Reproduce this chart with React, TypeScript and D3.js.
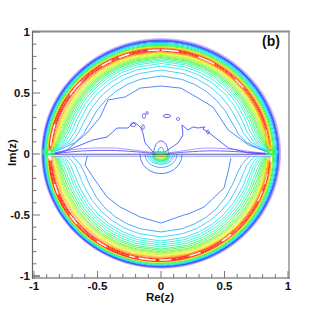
import React from "react";
import * as d3 from "d3";

const W = 322, H = 309;
const xTicksMajor = [-1, -0.5, 0, 0.5, 1];
const yTicksMajor = [-1, -0.5, 0, 0.5, 1];
const minorTicks = d3.range(-10, 11).map((d) => d / 10);

// angle samples (degrees from the real axis) for the dome profiles
const profileAngles = [1.5, 4, 8, 15, 25, 45, 90];

const upperDomes = [
  [0.83, 0.76, 0.68, 0.63, 0.615, 0.62, 0.64],
  [0.84, 0.78, 0.71, 0.67, 0.66, 0.668, 0.689],
  [0.845, 0.795, 0.735, 0.7, 0.695, 0.705, 0.721],
  [0.85, 0.81, 0.755, 0.725, 0.72, 0.73, 0.742],
  [0.853, 0.82, 0.77, 0.745, 0.74, 0.748, 0.758],
  [0.855, 0.827, 0.785, 0.76, 0.755, 0.762, 0.77],
  [0.857, 0.833, 0.797, 0.772, 0.768, 0.775, 0.781],
  [0.86, 0.838, 0.807, 0.785, 0.78, 0.785, 0.791],
  [0.861, 0.843, 0.815, 0.795, 0.79, 0.794, 0.799],
  [0.862, 0.847, 0.823, 0.805, 0.8, 0.803, 0.807],
  [0.863, 0.85, 0.83, 0.814, 0.81, 0.812, 0.815],
  [0.864, 0.853, 0.836, 0.822, 0.819, 0.82, 0.821],
  [0.865, 0.856, 0.842, 0.83, 0.827, 0.827, 0.828],
  [0.866, 0.858, 0.847, 0.837, 0.834, 0.834, 0.834],
  [0.867, 0.86, 0.852, 0.843, 0.84, 0.84, 0.84],
];
const lowerDomes = [
  [0.7, 0.67, 0.64, 0.62, 0.615, 0.625, 0.639],
  [0.74, 0.71, 0.68, 0.665, 0.66, 0.665, 0.68],
  [0.765, 0.74, 0.715, 0.7, 0.695, 0.7, 0.713],
  [0.785, 0.76, 0.735, 0.72, 0.715, 0.72, 0.73],
  [0.8, 0.775, 0.75, 0.735, 0.732, 0.738, 0.746],
  [0.81, 0.79, 0.77, 0.755, 0.75, 0.755, 0.762],
  [0.82, 0.8, 0.785, 0.77, 0.765, 0.77, 0.779],
  [0.83, 0.81, 0.795, 0.785, 0.78, 0.785, 0.79],
  [0.835, 0.82, 0.805, 0.797, 0.795, 0.8, 0.803],
  [0.84, 0.825, 0.815, 0.807, 0.805, 0.808, 0.811],
  [0.845, 0.83, 0.823, 0.816, 0.815, 0.817, 0.82],
  [0.85, 0.835, 0.83, 0.825, 0.823, 0.825, 0.828],
  [0.853, 0.84, 0.837, 0.833, 0.832, 0.834, 0.836],
  [0.856, 0.848, 0.844, 0.84, 0.84, 0.842, 0.844],
  [0.86, 0.855, 0.851, 0.848, 0.848, 0.85, 0.852],
];

// palette position of each dome, blue side first
const domeShade = [0.25, 0.31, 0.36, 0.41, 0.46, 0.5, 0.55, 0.59, 0.63, 0.67, 0.71, 0.75, 0.79, 0.84, 0.89];

// full outer rings: radius and palette position
const outerRingRadii = [0.941, 0.936, 0.931, 0.926, 0.921, 0.915, 0.908, 0.901, 0.894, 0.887];
const outerRingShade = [0.0, 0.04, 0.08, 0.11, 0.16, 0.27, 0.37, 0.47, 0.56, 0.66];
// crescents just outside the ridge
const outerCrescentRadii = [0.881, 0.876];
const outerCrescentShade = [0.78, 0.88];

// red crescents either side of the real axis
const ridgeOffsets = [0.01, 0.004, -0.004, -0.01];
const ridgeGaps = [
  [8, 15], [40, 46], [60, 69], [80, 90], [90, 97], [106, 113], [116, 124], [136, 147], [163, 175],
  [196, 204], [215, 222], [235, 241], [254, 259], [259, 270], [270, 278], [286, 292], [305, 311], [334, 340], [344, 352],
];

// hand-read contour polylines, in [Re, Im]
const upperBlue = [[-0.87,0.0],[-0.74,0.033],[-0.583,0.172],[-0.48,0.3],[-0.417,0.443],[-0.283,0.467],[-0.165,0.54],[0,0.557],[0.157,0.54],[0.29,0.46],[0.41,0.385],[0.528,0.197],[0.69,0.074],[0.84,0.016],[0.87,0.0]];
const lowerBlue = [[-0.58,-0.016],[-0.598,-0.09],[-0.52,-0.213],[-0.425,-0.352],[-0.323,-0.434],[-0.165,-0.516],[0,-0.566],[0.18,-0.5],[0.22,-0.49],[0.34,-0.434],[0.496,-0.279],[0.535,-0.115],[0.551,-0.033]];
const jagged = [[-0.87,0.0],[-0.8,0.008],[-0.69,0.05],[-0.535,0.115],[-0.425,0.139],[-0.346,0.213],[-0.26,0.213],[-0.22,0.254],[-0.2,0.254],[-0.173,0.23],[-0.158,0.213],[-0.142,0.172],[-0.126,0.092],[-0.063,0.016],[0.03,0.016],[0.134,0.09],[0.173,0.156],[0.165,0.238],[0.213,0.197],[0.252,0.222],[0.291,0.213],[0.346,0.222],[0.33,0.205],[0.37,0.18],[0.53,0.05],[0.69,0.008],[0.87,0.0]];
const arcLeft = [[-0.87,0.0],[-0.7,0.035],[-0.55,0.048],[-0.35,0.048],[-0.2,0.03],[-0.03,0.008]];
const arcRight = [[0.05,0.008],[0.2,0.03],[0.34,0.048],[0.55,0.04],[0.73,0.016],[0.87,0.0]];
const arcLeft2 = [[-0.87,0.0],[-0.6,0.026],[-0.35,0.028],[-0.15,0.014],[-0.03,0.003]];
const arcRight2 = [[0.05,0.003],[0.2,0.016],[0.4,0.026],[0.65,0.016],[0.87,0.0]];
const axisLine = [[-0.87,-0.002],[0.87,-0.002]];
const axisLine2 = [[-0.87,-0.018],[0.87,-0.018]];

// small islands: centre Re, Im, semi axes
const islands = [
  [-0.134, 0.311, 0.012, 0.02], [-0.11, 0.336, 0.008, 0.012], [-0.142, 0.221, 0.01, 0.02],
  [0.047, 0.311, 0.03, 0.012], [0.134, 0.287, 0.012, 0.012], [0.37, 0.18, 0.012, 0.014],
  [-0.22, 0.24, 0.02, 0.015],
];

// centre structure
const centreUpperArcs = [
  { rx: 0.058, ry: 0.107, shade: 0.15 },
  { rx: 0.025, ry: 0.055, shade: 0.2 },
];
const centreLobes = [
  { cy: -0.005, rx: 0.165, ry: 0.155, shade: 0.17 },
  { cy: -0.005, rx: 0.125, ry: 0.105, shade: 0.24 },
  { cy: -0.005, rx: 0.105, ry: 0.08, shade: 0.3 },
  { cy: -0.012, rx: 0.09, ry: 0.062, shade: 0.36 },
  { cy: -0.014, rx: 0.078, ry: 0.05, shade: 0.42 },
];
const centreCoreRx = [0.066, 0.055, 0.045];
const centreCoreRy = [0.036, 0.029, 0.022];
const centreCoreShade = [0.5, 0.58, 0.68];

const cornerBlobs = [
  { cx: -0.885, cy: 0.016, rx: 0.05, ry: 0.02, shade: 0.5 },
  { cx: -0.885, cy: 0.016, rx: 0.03, ry: 0.012, shade: 0.6 },
  { cx: 0.87, cy: 0.016, rx: 0.05, ry: 0.02, shade: 0.5 },
  { cx: 0.87, cy: 0.016, rx: 0.03, ry: 0.012, shade: 0.6 },
];

const paletteStops = ["#8a58ff", "#3a3aff", "#2a7cff", "#27c8ff", "#25f0e8", "#30f5a0", "#3cf53c", "#a8f530", "#f5f520", "#ff9a1e", "#ff2a20"];
const shade = d3.scaleLinear<string>().domain(paletteStops.map((_, i) => i / (paletteStops.length - 1))).range(paletteStops);

const x = d3.scaleLinear().domain([-1, 1]).range([34, 288]);
const y = d3.scaleLinear().domain([-1, 1]).range([276, 32]);
const line = d3.line<number[]>().x((d) => x(d[0])).y((d) => y(d[1]));
const smooth = d3.line<number[]>().x((d) => x(d[0])).y((d) => y(d[1])).curve(d3.curveCatmullRom.alpha(0.5));

const polar = (r: number, deg: number, cx = 0, cy = 0) => [cx + r * Math.cos((deg * Math.PI) / 180), cy + r * Math.sin((deg * Math.PI) / 180)];

function domePoints(row: number[], sign: number) {
  const rOf = d3.scaleLinear().domain(profileAngles).range(row);
  const fine = [1.5, 2.5, 4, 6, 8, 11, 15, 20, 25, 35, 45, 55, 65, 75, 90];
  const a = fine.map((t) => polar(rOf(t), t));
  const b = fine.slice(0, -1).reverse().map((t) => polar(rOf(t), 180 - t));
  return [...a, ...b].map((p) => [p[0], sign * p[1]]);
}

function ringPath(r: number, from: number, to: number, cx: number, cy: number, closed = false) {
  const pts = d3.range(from, to + 0.001, 3).map((t) => polar(r, t, cx, cy));
  return line(pts) + (closed ? "Z" : "");
}
const ringCentre = (r: number) => {
  const k = (r - 0.861) / 0.077;
  return [-0.012 + k * 0.012, -0.0085 + k * 0.013];
};

function ellipsePath(cx: number, cy: number, rx: number, ry: number, from = 0, to = 360) {
  const pts = d3.range(from, to + 0.001, 15).map((t) => [cx + rx * Math.cos((t * Math.PI) / 180), cy + ry * Math.sin((t * Math.PI) / 180)]);
  return smooth(pts) as string;
}

const font = "'Liberation Sans', Arial, sans-serif";
const sw = 0.85;

export default function App() {
  const ridgeC = [-0.012, -0.0085];
  return (
    <svg width={W} height={H} style={{ position: "absolute", left: 0, top: 0 }} fontFamily={font} fontWeight="bold">
      <rect width={W} height={H} fill="#fff" />
      <g fill="none" strokeWidth={sw}>
        {outerRingRadii.map((r, i) => {
          const c = ringCentre(r);
          return <path key={"o" + i} d={ringPath(r, 0, 360, c[0], c[1], true)} stroke={shade(outerRingShade[i])} strokeWidth={i < 3 ? 0.65 : 1.05} strokeOpacity={i < 2 ? 0.6 : 1} />;
        })}
        {outerCrescentRadii.map((r, i) => {
          const c = ringCentre(r);
          return (
            <g key={"oc" + i} stroke={shade(outerCrescentShade[i])} strokeWidth={1.15}>
              <path d={ringPath(r, 2, 178, c[0], c[1])} />
              <path d={ringPath(r, 182, 358, c[0], c[1])} />
            </g>
          );
        })}
        {ridgeOffsets.map((o, i) => (
          <g key={"r" + i} stroke={"#ff2a20"} strokeWidth={1}>
            <path d={ringPath(0.861 + o, 3, 177, ridgeC[0], ridgeC[1])} />
            <path d={ringPath(0.861 + o, 183, 357, ridgeC[0], ridgeC[1])} />
          </g>
        ))}
        <g stroke="#ff6a20" strokeWidth={0.9}>
          <path d={ringPath(0.861 - 0.017, 6, 174, ridgeC[0], ridgeC[1])} />
          <path d={ringPath(0.861 - 0.017, 186, 354, ridgeC[0], ridgeC[1])} />
        </g>
        {ridgeGaps.map((g, i) => (
          <path key={"g" + i} d={ringPath(0.861, g[0], g[1], ridgeC[0], ridgeC[1])} stroke="#fff" strokeWidth={1.5} />
        ))}
        {upperDomes.map((row, i) => (
          <path key={"u" + i} d={line(domePoints(row, 1)) as string} stroke={shade(domeShade[i])} />
        ))}
        {lowerDomes.map((row, i) => (
          <path key={"l" + i} d={line(domePoints(row, -1)) as string} stroke={shade(domeShade[i])} />
        ))}
        <path d={line(upperBlue) as string} stroke={shade(0.19)} />
        <path d={line(lowerBlue) as string} stroke={shade(0.19)} />
        <path d={line(jagged) as string} stroke={shade(0.13)} />
        {[arcLeft, arcRight].map((a, i) => <path key={"a" + i} d={smooth(a) as string} stroke={shade(0.02)} strokeOpacity={0.7} />)}
        {[arcLeft2, arcRight2].map((a, i) => <path key={"b" + i} d={smooth(a) as string} stroke={shade(0.07)} />)}
        {islands.map((e, i) => <path key={"i" + i} d={ellipsePath(e[0], e[1], e[2], e[3])} stroke={shade(0.1)} />)}
        {centreUpperArcs.map((c, i) => <path key={"c" + i} d={ellipsePath(0, 0, c.rx, c.ry, 0, 180)} stroke={shade(c.shade)} />)}
        {centreLobes.map((c, i) => <path key={"k" + i} d={ellipsePath(0, c.cy, c.rx, c.ry, 180, 360)} stroke={shade(c.shade)} />)}
        {centreCoreRx.map((rx, i) => <path key={"cc" + i} d={ellipsePath(0, -0.02, rx, centreCoreRy[i])} stroke={shade(centreCoreShade[i])} strokeWidth={1.2} />)}
        <ellipse cx={x(0)} cy={y(-0.02)} rx={x(0.034) - x(0)} ry={y(0) - y(0.014)} fill="#f0f020" stroke="#c8f530" />
        <path d={line(axisLine) as string} stroke="#1c1c70" strokeWidth={0.7} />
        <path d={line(axisLine2) as string} stroke={shade(0.14)} strokeWidth={0.6} />
        {cornerBlobs.map((c, i) => <path key={"cb" + i} d={ellipsePath(c.cx, c.cy, c.rx, c.ry)} stroke={shade(c.shade)} strokeWidth={1.3} />)}
      </g>

      {/* frame */}
      <g fill="none" stroke="#8c8c8c">
        <line x1={32} x2={290} y1={31.5} y2={31.5} strokeWidth={2} />
        <line x1={289} x2={289} y1={31} y2={279} strokeWidth={1.4} />
        <line x1={32} x2={290} y1={278} y2={278} strokeWidth={1.4} />
        <line x1={32.5} x2={32.5} y1={31} y2={279} strokeWidth={1.2} stroke="#666" />
      </g>
      {/* ticks */}
      <g stroke="#777" strokeWidth={1}>
        {minorTicks.map((t) => {
          const major = yTicksMajor.includes(t);
          return <line key={"yt" + t} x1={33} x2={major ? 40 : 36.5} y1={y(t)} y2={y(t)} stroke={t === -1 ? "#222" : undefined} />;
        })}
        {minorTicks.map((t) => {
          const major = xTicksMajor.includes(t);
          return <line key={"xt" + t} x1={x(t)} x2={x(t)} y1={278} y2={major ? 271 : 274} />;
        })}
      </g>
      <g fontSize={11.5} fill="#111">
        {yTicksMajor.map((t) => (
          <text key={"yl" + t} x={30} y={y(t) + 4.2} textAnchor="end">{String(t)}</text>
        ))}
        {xTicksMajor.map((t) => (
          <text key={"xl" + t} x={x(t)} y={289.5} textAnchor="middle">{String(t)}</text>
        ))}
        <text x={174} y={301} textAnchor="end">Re(z)</text>
        <text transform="translate(16,166) rotate(-90)" textAnchor="start" x={0} y={0}>Im(z)</text>
      </g>
      <text x={262} y={46} fontSize={14} fill="#111">(b)</text>
    </svg>
  );
}
